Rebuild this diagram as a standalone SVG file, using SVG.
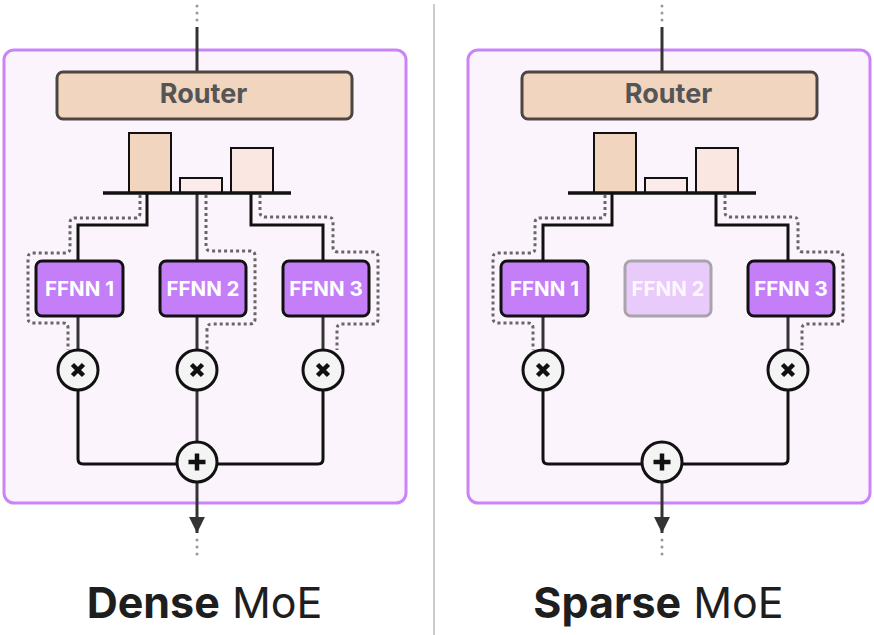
<svg xmlns="http://www.w3.org/2000/svg" width="874" height="635" viewBox="0 0 874 635">
<style>
.panel{fill:#fcf4fd;stroke:#c985f7;stroke-width:3}
.router{fill:#f1d5bf;stroke:#4d4540;stroke-width:3}
.rtext{font-family:Inter,"Liberation Sans",sans-serif;font-weight:700;font-size:27px;fill:#555;text-anchor:middle}
.bar{stroke:#111;stroke-width:2}
.base{stroke:#111;stroke-width:3.5}
.ffnn{fill:#c47ef8;stroke:#111;stroke-width:3}
.ftext{font-family:Inter,"Liberation Sans",sans-serif;font-weight:700;font-size:20.5px;fill:#fff;text-anchor:middle}
.wire{fill:none;stroke:#111;stroke-width:3}
.wire2{fill:none;stroke:#333;stroke-width:3}
.route{fill:none;stroke:#666;stroke-width:3;stroke-dasharray:3 3}
.gdots{fill:none;stroke:#999;stroke-width:3;stroke-linecap:round;stroke-dasharray:0 7}
.op{fill:#f4f4f4;stroke:#111;stroke-width:3}
.sym{stroke:#111;stroke-width:4.5;fill:none}
.title{font-family:Inter,"Liberation Sans",sans-serif;font-size:43px;fill:#1e1e1e;text-anchor:middle}
</style>
<defs>
<marker id="ah" viewBox="0 0 10 10" refX="10" refY="5" markerWidth="7" markerHeight="5.3" markerUnits="strokeWidth" orient="auto">
<path d="M0 0 L10 5 L0 10 Z" fill="#333"/>
</marker>
</defs>
<line x1="434" y1="4" x2="434" y2="635" stroke="#ccc" stroke-width="2"/>

<!-- Dense panel -->
<g id="dense">
<rect id="dense-box" class="panel" x="4" y="50" width="402" height="453" rx="10"/>
<g id="dense-connectors">
<line class="gdots" x1="197" y1="6" x2="197" y2="22"/>
<line class="wire2" x1="197" y1="27" x2="197" y2="72"/>
<path class="wire" d="M147 193 V225 H78 V261"/>
<path class="wire2" d="M197 193 V261"/>
<path class="wire" d="M251 193 V225 H323 V261"/>
<line class="wire2" x1="78" y1="316" x2="78" y2="350"/>
<line class="wire2" x1="197" y1="316" x2="197" y2="350"/>
<line class="wire2" x1="323" y1="316" x2="323" y2="350"/>
<path class="wire" d="M78 391 V459 Q78 464 83 464 H318 Q323 464 323 459 V391"/>
<line class="wire2" x1="197" y1="391" x2="197" y2="441"/>
<line class="wire2" x1="197" y1="483" x2="197" y2="533" marker-end="url(#ah)"/>
<line class="gdots" x1="197" y1="540" x2="197" y2="555"/>
<path class="route" d="M140 195 V213 Q140 218 135 218 H75 Q70 218 70 223 V248 Q70 253 65 253 H33 Q28 253 28 258 V318 Q28 323 33 323 H63 Q68 323 68 328 V350"/>
<path class="route" d="M206 195 V246 Q206 251 211 251 H250 Q255 251 255 256 V319 Q255 324 250 324 H212 Q207 324 207 329 V350"/>
<path class="route" d="M260 195 V212 Q260 217 265 217 H328 Q333 217 333 222 V247 Q333 252 338 252 H373 Q378 252 378 257 V319 Q378 324 373 324 H342 Q337 324 337 329 V350"/>
</g>
<g id="dense-router">
<rect class="router" x="57" y="72" width="295" height="47" rx="6"/>
<text class="rtext" x="203.5" y="103">Router</text>
</g>
<g id="dense-bars">
<rect class="bar" x="129" y="133" width="42" height="60" fill="#f1d5bf"/>
<rect class="bar" x="180" y="178" width="42" height="15" fill="#fbeceb"/>
<rect class="bar" x="231" y="148" width="42" height="45" fill="#fae7e2"/>
<line class="base" x1="103" y1="193" x2="291" y2="193"/>
</g>
<g id="dense-ffnn1"><rect class="ffnn" x="36" y="261" width="87" height="55" rx="6"/><text class="ftext" x="79.5" y="296">FFNN 1</text></g>
<g id="dense-ffnn2"><rect class="ffnn" x="160" y="261" width="86" height="55" rx="6"/><text class="ftext" x="203" y="296">FFNN 2</text></g>
<g id="dense-ffnn3"><rect class="ffnn" x="283" y="261" width="86" height="55" rx="6"/><text class="ftext" x="326" y="296">FFNN 3</text></g>
<g id="dense-mul1"><circle class="op" cx="78" cy="370" r="20"/><path class="sym" d="M72.5 364.5 L83.5 375.5 M83.5 364.5 L72.5 375.5"/></g>
<g id="dense-mul2"><circle class="op" cx="197" cy="370" r="20"/><path class="sym" d="M191.5 364.5 L202.5 375.5 M202.5 364.5 L191.5 375.5"/></g>
<g id="dense-mul3"><circle class="op" cx="323" cy="370" r="20"/><path class="sym" d="M317.5 364.5 L328.5 375.5 M328.5 364.5 L317.5 375.5"/></g>
<g id="dense-add"><circle class="op" cx="197" cy="462" r="20"/><path class="sym" d="M188.5 462 H205.5 M197 453.5 V470.5"/></g>
<text class="title" x="204.5" y="618"><tspan font-weight="700">Dense</tspan> MoE</text>
</g>

<!-- Sparse panel -->
<g id="sparse" transform="translate(465,0)">
<rect id="sparse-box" class="panel" x="3" y="50" width="402" height="453" rx="10"/>
<g id="sparse-connectors">
<line class="gdots" x1="197" y1="6" x2="197" y2="22"/>
<line class="wire2" x1="197" y1="27" x2="197" y2="72"/>
<path class="wire" d="M147 193 V225 H78 V261"/>
<path class="wire" d="M251 193 V225 H323 V261"/>
<line class="wire2" x1="78" y1="316" x2="78" y2="350"/>
<line class="wire2" x1="323" y1="316" x2="323" y2="350"/>
<path class="wire" d="M78 391 V459 Q78 464 83 464 H318 Q323 464 323 459 V391"/>
<line class="wire2" x1="197" y1="483" x2="197" y2="533" marker-end="url(#ah)"/>
<line class="gdots" x1="197" y1="540" x2="197" y2="555"/>
<path class="route" d="M140 195 V213 Q140 218 135 218 H75 Q70 218 70 223 V248 Q70 253 65 253 H33 Q28 253 28 258 V318 Q28 323 33 323 H63 Q68 323 68 328 V350"/>
<path class="route" d="M260 195 V212 Q260 217 265 217 H328 Q333 217 333 222 V247 Q333 252 338 252 H373 Q378 252 378 257 V319 Q378 324 373 324 H342 Q337 324 337 329 V350"/>
</g>
<g id="sparse-router">
<rect class="router" x="57" y="72" width="295" height="47" rx="6"/>
<text class="rtext" x="203.5" y="103">Router</text>
</g>
<g id="sparse-bars">
<rect class="bar" x="129" y="133" width="42" height="60" fill="#f1d5bf"/>
<rect class="bar" x="180" y="178" width="42" height="15" fill="#fbeceb"/>
<rect class="bar" x="231" y="148" width="42" height="45" fill="#fae7e2"/>
<line class="base" x1="103" y1="193" x2="291" y2="193"/>
</g>
<g id="sparse-ffnn1"><rect class="ffnn" x="36" y="261" width="87" height="55" rx="6"/><text class="ftext" x="79.5" y="296">FFNN 1</text></g>
<g id="sparse-ffnn2" opacity="0.35"><rect class="ffnn" x="160" y="261" width="86" height="55" rx="6"/><text class="ftext" x="203" y="296">FFNN 2</text></g>
<g id="sparse-ffnn3"><rect class="ffnn" x="283" y="261" width="86" height="55" rx="6"/><text class="ftext" x="326" y="296">FFNN 3</text></g>
<g id="sparse-mul1"><circle class="op" cx="78" cy="370" r="20"/><path class="sym" d="M72.5 364.5 L83.5 375.5 M83.5 364.5 L72.5 375.5"/></g>
<g id="sparse-mul3"><circle class="op" cx="323" cy="370" r="20"/><path class="sym" d="M317.5 364.5 L328.5 375.5 M328.5 364.5 L317.5 375.5"/></g>
<g id="sparse-add"><circle class="op" cx="197" cy="462" r="20"/><path class="sym" d="M188.5 462 H205.5 M197 453.5 V470.5"/></g>
<text class="title" x="193.5" y="618"><tspan font-weight="700">Sparse</tspan> MoE</text>
</g>
</svg>
